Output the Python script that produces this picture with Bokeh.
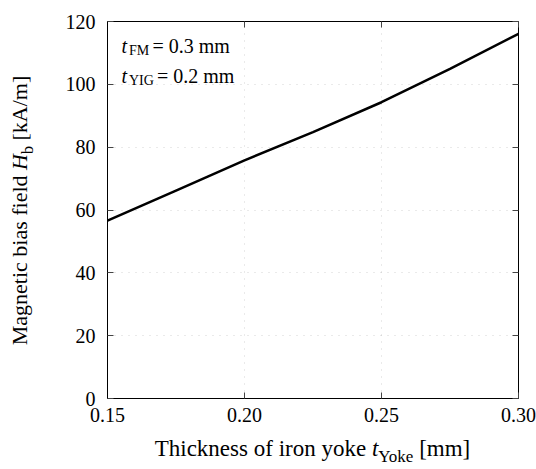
from bokeh.plotting import figure
from bokeh.models import (Range1d, FixedTicker, PrintfTickFormatter, LinearAxis, Label, Div)
from bokeh.layouts import row, column
from bokeh.embed import file_html
from bokeh.resources import INLINE

# ---- data ----
t_yoke = [0.15, 0.175, 0.20, 0.225, 0.25, 0.275, 0.30]
h_bias = [56.6, 66.2, 75.8, 84.8, 94.3, 104.9, 116.1]
x_ticks = [0.15, 0.20, 0.25, 0.30]
y_ticks = [0, 20, 40, 60, 80, 100, 120]
x_label_parts = ("Thickness of iron yoke ", "t", "Yoke", " [mm]")
y_label_parts = ("Magnetic bias field ", "H", "b", " [kA/m]")
notes = [("FM", "= 0.3 mm"), ("YIG", "= 0.2 mm")]

FONT = "Liberation Serif"
W, H = 536, 469
YDIV_W = 40          # width of the y-label strip
XDIV_H = 34          # height of the x-label strip
FIG_W = W - YDIV_W
FIG_H = H - XDIV_H
FRAME_L, FRAME_R, FRAME_T, FRAME_B = 107, 518, 21, 398   # page pixels

p = figure(width=FIG_W, height=FIG_H, output_backend="svg", toolbar_location=None,
           x_range=Range1d(0.15, 0.30), y_range=Range1d(0, 120),
           min_border_left=FRAME_L - YDIV_W, min_border_right=W - FRAME_R,
           min_border_top=FRAME_T, min_border_bottom=FIG_H - FRAME_B,
           x_axis_label=None, y_axis_label=None)
p.background_fill_color = "white"
p.border_fill_color = "white"
p.outline_line_color = "black"
p.outline_line_width = 1

for ax, ticks, fmt in ((p.xaxis[0], x_ticks, "%.2f"), (p.yaxis[0], y_ticks, "%d")):
    ax.ticker = FixedTicker(ticks=ticks)
    ax.formatter = PrintfTickFormatter(format=fmt)
    ax.major_tick_in = 6
    ax.major_tick_out = 0
    ax.minor_tick_line_color = None
    ax.major_tick_line_color = "#444444"
    ax.axis_line_color = "black"
    ax.major_label_text_font = FONT
    ax.major_label_text_font_size = "20px"
    ax.major_label_text_color = "black"
p.xaxis[0].major_label_standoff = 9
p.yaxis[0].major_label_standoff = 12

for side, ticks in (("right", y_ticks), ("above", x_ticks)):
    ax = LinearAxis(ticker=FixedTicker(ticks=ticks))
    ax.major_tick_in = 6
    ax.major_tick_out = 0
    ax.minor_tick_line_color = None
    ax.major_tick_line_color = "#444444"
    ax.axis_line_color = None
    ax.major_label_text_font_size = "1px"
    ax.major_label_text_color = None
    ax.major_label_standoff = 0
    p.add_layout(ax, side)

p.xgrid.ticker = FixedTicker(ticks=x_ticks)
p.ygrid.ticker = FixedTicker(ticks=y_ticks)
for g in (p.xgrid, p.ygrid):
    g.grid_line_color = "#888888"
    g.grid_line_alpha = 0.35
    g.grid_line_dash = "1 6"
    g.grid_line_width = 1

p.line(t_yoke, h_bias, line_color="black", line_width=2.5)

# ---- annotation inside the frame ----
AS, ASUB = 20, 14


def lab(x, y, text, size, italic=False):
    p.add_layout(Label(x=x, y=y, x_units="screen", y_units="screen", text=text,
                       text_font=FONT, text_font_size=f"{size}px",
                       text_font_style="italic" if italic else "normal",
                       text_color="black", text_align="left",
                       text_baseline="alphabetic"))


fh = FRAME_B - FRAME_T
for (sub, val), base in zip(notes, (45, 75)):
    ys = FRAME_B - base
    lab(14, ys, "t", AS, True)
    lab(21.5, ys - 5, sub, ASUB)
    lab(21.5 + (23.5 if sub == "FM" else 28), ys, val, AS)

# ---- axis labels as HTML text strips ----
a, b, c, d = x_label_parts
x_html = (
    f'<div style="position:absolute; left:{FRAME_L}px; top:1px; width:{FRAME_R - FRAME_L}px; '
    f'text-align:center; white-space:nowrap; font-family:\'{FONT}\'; font-size:23px; '
    f'line-height:26px; color:black;">{a}<i>{b}</i>'
    f'<span style="font-size:17px; position:relative; top:6px;">{c}</span>{d}</div>'
)
xdiv = Div(text=x_html, width=W, height=XDIV_H, margin=0,
           styles={"position": "relative", "overflow": "visible"})

a, b, c, d = y_label_parts
y_html = (
    f'<div style="position:absolute; left:5px; top:{FRAME_B + 1}px; width:{fh}px; height:30px; '
    f'transform-origin:0 0; transform:rotate(-90deg); text-align:center; white-space:nowrap; '
    f'font-family:\'{FONT}\'; font-size:22px; line-height:30px; color:black;">{a}<i>{b}</i>'
    f'<span style="font-size:16px; position:relative; top:6px;">{c}</span>{d}</div>'
)
ydiv = Div(text=y_html, width=YDIV_W, height=FIG_H, margin=0,
           styles={"position": "relative", "overflow": "visible"})

layout = column(row(ydiv, p, spacing=0, margin=0), xdiv, spacing=0, margin=0)

open("out.html", "w").write(file_html(layout, INLINE))
